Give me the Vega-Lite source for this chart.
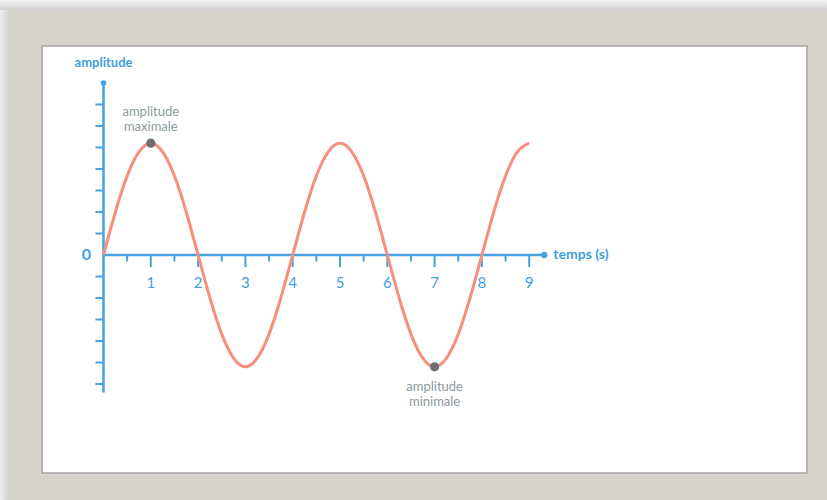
{
  "$schema": "https://vega.github.io/schema/vega-lite/v6.json",
  "width": 765,
  "height": 427,
  "autosize": "none",
  "padding": {"left": 42, "top": 46, "right": 20, "bottom": 27},
  "background": "#d6d3cc",
  "config": {
    "view": {"fill": "white", "stroke": "#a4a4a4", "strokeWidth": 1.5},
    "font": "Lato"
  },
  "datasets": {
    "wave": [
      {"t": 0, "a": 0}, {"t": 0.25, "a": 1.99}, {"t": 0.5, "a": 3.68}, {"t": 0.75, "a": 4.8},
      {"t": 1, "a": 5.2}, {"t": 1.25, "a": 4.8}, {"t": 1.5, "a": 3.68}, {"t": 1.75, "a": 1.99},
      {"t": 2, "a": 0}, {"t": 2.25, "a": -1.99}, {"t": 2.5, "a": -3.68}, {"t": 2.75, "a": -4.8},
      {"t": 3, "a": -5.2}, {"t": 3.25, "a": -4.8}, {"t": 3.5, "a": -3.68}, {"t": 3.75, "a": -1.99},
      {"t": 4, "a": 0}, {"t": 4.25, "a": 1.99}, {"t": 4.5, "a": 3.68}, {"t": 4.75, "a": 4.8},
      {"t": 5, "a": 5.2}, {"t": 5.25, "a": 4.8}, {"t": 5.5, "a": 3.68}, {"t": 5.75, "a": 1.99},
      {"t": 6, "a": 0}, {"t": 6.25, "a": -1.99}, {"t": 6.5, "a": -3.68}, {"t": 6.75, "a": -4.8},
      {"t": 7, "a": -5.2}, {"t": 7.25, "a": -4.8}, {"t": 7.5, "a": -3.68}, {"t": 7.75, "a": -1.99},
      {"t": 8, "a": 0}, {"t": 8.25, "a": 1.99}, {"t": 8.5, "a": 3.68}, {"t": 8.75, "a": 4.8},
      {"t": 9, "a": 5.2}
    ],
    "majorTicks": [
      {"t": 1}, {"t": 2}, {"t": 3}, {"t": 4}, {"t": 5}, {"t": 6}, {"t": 7}, {"t": 8}, {"t": 9}
    ],
    "minorTicks": [
      {"t": 0.5}, {"t": 1.5}, {"t": 2.5}, {"t": 3.5}, {"t": 4.5}, {"t": 5.5}, {"t": 6.5}, {"t": 7.5}, {"t": 8.5}
    ],
    "yTicks": [
      {"v": -6}, {"v": -5}, {"v": -4}, {"v": -3}, {"v": -2}, {"v": -1},
      {"v": 1}, {"v": 2}, {"v": 3}, {"v": 4}, {"v": 5}, {"v": 6}, {"v": 7}
    ],
    "extremes": [
      {"t": 1, "a": 5.2, "kind": "max", "label": ["amplitude", "maximale"]},
      {"t": 7, "a": -5.2, "kind": "min", "label": ["amplitude", "minimale"]}
    ],
    "one": [{}]
  },
  "layer": [
    {
      "description": "soft shadow above the frame",
      "data": {"name": "one"},
      "mark": {"type": "rect", "color": {"gradient": "linear", "x1": 0, "y1": 0, "x2": 0, "y2": 1, "stops": [{"offset": 0, "color": "#f6f6f6"}, {"offset": 1, "color": "#cfcfcf"}]}},
      "encoding": {
        "x": {"datum": -2.25, "type": "quantitative", "scale": {"domain": [-1.3002, 14.873], "nice": false, "zero": false}, "axis": null},
        "x2": {"datum": 15.4},
        "y": {"datum": 11.9, "type": "quantitative", "scale": {"domain": [-10.14, 9.721], "nice": false, "zero": false}, "axis": null},
        "y2": {"datum": 11.395}
      }
    },
    {
      "description": "soft shadow left of the frame",
      "data": {"name": "one"},
      "mark": {"type": "rect", "color": {"gradient": "linear", "x1": 0, "y1": 0, "x2": 1, "y2": 0, "stops": [{"offset": 0, "color": "#f6f6f6"}, {"offset": 1, "color": "#cfcfcf"}]}},
      "encoding": {
        "x": {"datum": -2.25, "type": "quantitative", "scale": {"domain": [-1.3002, 14.873], "nice": false, "zero": false}, "axis": null},
        "x2": {"datum": -1.977},
        "y": {"datum": 11.395, "type": "quantitative", "scale": {"domain": [-10.14, 9.721], "nice": false, "zero": false}, "axis": null},
        "y2": {"datum": -11.6}
      }
    },
    {
      "description": "vertical amplitude axis",
      "data": {"name": "one"},
      "mark": {"type": "rule", "color": "#45a3e1", "strokeWidth": 2.5},
      "encoding": {
        "x": {"datum": 0, "type": "quantitative", "scale": {"domain": [-1.3002, 14.873], "nice": false, "zero": false}, "axis": null},
        "y": {"datum": -6.4, "type": "quantitative", "scale": {"domain": [-10.14, 9.721], "nice": false, "zero": false}, "axis": null},
        "y2": {"datum": 8.0}
      }
    },
    {
      "description": "horizontal time axis",
      "data": {"name": "one"},
      "mark": {"type": "rule", "color": "#45a3e1", "strokeWidth": 2.5},
      "encoding": {
        "x": {"datum": 0, "type": "quantitative", "scale": {"domain": [-1.3002, 14.873], "nice": false, "zero": false}, "axis": null},
        "x2": {"datum": 9.32},
        "y": {"datum": 0, "type": "quantitative", "scale": {"domain": [-10.14, 9.721], "nice": false, "zero": false}, "axis": null}
      }
    },
    {
      "description": "whole-second ticks",
      "data": {"name": "majorTicks"},
      "mark": {"type": "rule", "color": "#45a3e1", "strokeWidth": 2},
      "encoding": {
        "x": {"field": "t", "type": "quantitative", "scale": {"domain": [-1.3002, 14.873], "nice": false, "zero": false}, "axis": null},
        "y": {"datum": 0, "type": "quantitative", "scale": {"domain": [-10.14, 9.721], "nice": false, "zero": false}, "axis": null},
        "y2": {"datum": -0.56}
      }
    },
    {
      "description": "half-second ticks",
      "data": {"name": "minorTicks"},
      "mark": {"type": "rule", "color": "#45a3e1", "strokeWidth": 2},
      "encoding": {
        "x": {"field": "t", "type": "quantitative", "scale": {"domain": [-1.3002, 14.873], "nice": false, "zero": false}, "axis": null},
        "y": {"datum": 0, "type": "quantitative", "scale": {"domain": [-10.14, 9.721], "nice": false, "zero": false}, "axis": null},
        "y2": {"datum": -0.3}
      }
    },
    {
      "description": "amplitude ticks",
      "data": {"name": "yTicks"},
      "mark": {"type": "rule", "color": "#45a3e1", "strokeWidth": 2},
      "encoding": {
        "x": {"datum": -0.17, "type": "quantitative", "scale": {"domain": [-1.3002, 14.873], "nice": false, "zero": false}, "axis": null},
        "x2": {"datum": 0},
        "y": {"field": "v", "type": "quantitative", "scale": {"domain": [-10.14, 9.721], "nice": false, "zero": false}, "axis": null}
      }
    },
    {
      "description": "arrow dot at the end of the time axis",
      "data": {"name": "one"},
      "mark": {"type": "circle", "color": "#45a3e1", "opacity": 1, "size": 40},
      "encoding": {
        "x": {"datum": 9.32, "type": "quantitative", "scale": {"domain": [-1.3002, 14.873], "nice": false, "zero": false}, "axis": null},
        "y": {"datum": 0, "type": "quantitative", "scale": {"domain": [-10.14, 9.721], "nice": false, "zero": false}, "axis": null}
      }
    },
    {
      "description": "dot at the top of the amplitude axis",
      "data": {"name": "one"},
      "mark": {"type": "circle", "color": "#45a3e1", "opacity": 1, "size": 30},
      "encoding": {
        "x": {"datum": 0, "type": "quantitative", "scale": {"domain": [-1.3002, 14.873], "nice": false, "zero": false}, "axis": null},
        "y": {"datum": 8.0, "type": "quantitative", "scale": {"domain": [-10.14, 9.721], "nice": false, "zero": false}, "axis": null}
      }
    },
    {
      "description": "the sine wave",
      "data": {"name": "wave"},
      "mark": {"type": "line", "color": "#f78f7e", "strokeWidth": 3, "interpolate": "natural"},
      "encoding": {
        "x": {"field": "t", "type": "quantitative", "scale": {"domain": [-1.3002, 14.873], "nice": false, "zero": false}, "axis": null},
        "y": {"field": "a", "type": "quantitative", "scale": {"domain": [-10.14, 9.721], "nice": false, "zero": false}, "axis": null}
      }
    },
    {
      "description": "maximum and minimum points",
      "data": {"name": "extremes"},
      "mark": {"type": "circle", "color": "#6f6f6f", "opacity": 1, "size": 85},
      "encoding": {
        "x": {"field": "t", "type": "quantitative", "scale": {"domain": [-1.3002, 14.873], "nice": false, "zero": false}, "axis": null},
        "y": {"field": "a", "type": "quantitative", "scale": {"domain": [-10.14, 9.721], "nice": false, "zero": false}, "axis": null}
      }
    },
    {
      "description": "label above the maximum",
      "data": {"name": "extremes"},
      "transform": [{"filter": "datum.kind === 'max'"}],
      "mark": {"type": "text", "color": "#8d999d", "fontSize": 13, "baseline": "bottom", "align": "center", "dy": -24, "lineHeight": 15},
      "encoding": {
        "x": {"field": "t", "type": "quantitative", "scale": {"domain": [-1.3002, 14.873], "nice": false, "zero": false}, "axis": null},
        "y": {"field": "a", "type": "quantitative", "scale": {"domain": [-10.14, 9.721], "nice": false, "zero": false}, "axis": null},
        "text": {"field": "label"}
      }
    },
    {
      "description": "label below the minimum",
      "data": {"name": "extremes"},
      "transform": [{"filter": "datum.kind === 'min'"}],
      "mark": {"type": "text", "color": "#8d999d", "fontSize": 13, "baseline": "top", "align": "center", "dy": 14, "lineHeight": 15},
      "encoding": {
        "x": {"field": "t", "type": "quantitative", "scale": {"domain": [-1.3002, 14.873], "nice": false, "zero": false}, "axis": null},
        "y": {"field": "a", "type": "quantitative", "scale": {"domain": [-10.14, 9.721], "nice": false, "zero": false}, "axis": null},
        "text": {"field": "label"}
      }
    },
    {
      "description": "second labels under the time axis",
      "data": {"name": "majorTicks"},
      "mark": {"type": "text", "color": "#3d9fdf", "fontSize": 15, "baseline": "middle", "align": "center", "dy": 28},
      "encoding": {
        "x": {"field": "t", "type": "quantitative", "scale": {"domain": [-1.3002, 14.873], "nice": false, "zero": false}, "axis": null},
        "y": {"datum": 0, "type": "quantitative", "scale": {"domain": [-10.14, 9.721], "nice": false, "zero": false}, "axis": null},
        "text": {"field": "t"}
      }
    },
    {
      "description": "origin label",
      "data": {"name": "one"},
      "mark": {"type": "text", "color": "#3d9fdf", "fontSize": 16, "fontWeight": "bold", "baseline": "middle", "align": "center", "dx": -17, "text": "0"},
      "encoding": {
        "x": {"datum": 0, "type": "quantitative", "scale": {"domain": [-1.3002, 14.873], "nice": false, "zero": false}, "axis": null},
        "y": {"datum": 0, "type": "quantitative", "scale": {"domain": [-10.14, 9.721], "nice": false, "zero": false}, "axis": null}
      }
    },
    {
      "description": "time axis title",
      "data": {"name": "one"},
      "mark": {"type": "text", "color": "#3d9fdf", "fontSize": 14, "fontWeight": "bold", "baseline": "middle", "align": "left", "dx": 9, "text": "temps (s)"},
      "encoding": {
        "x": {"datum": 9.32, "type": "quantitative", "scale": {"domain": [-1.3002, 14.873], "nice": false, "zero": false}, "axis": null},
        "y": {"datum": 0, "type": "quantitative", "scale": {"domain": [-10.14, 9.721], "nice": false, "zero": false}, "axis": null}
      }
    },
    {
      "description": "amplitude axis title",
      "data": {"name": "one"},
      "mark": {"type": "text", "color": "#3d9fdf", "fontSize": 13, "fontWeight": "bold", "baseline": "middle", "align": "center", "dy": -20, "text": "amplitude"},
      "encoding": {
        "x": {"datum": 0, "type": "quantitative", "scale": {"domain": [-1.3002, 14.873], "nice": false, "zero": false}, "axis": null},
        "y": {"datum": 8.0, "type": "quantitative", "scale": {"domain": [-10.14, 9.721], "nice": false, "zero": false}, "axis": null}
      }
    }
  ]
}
